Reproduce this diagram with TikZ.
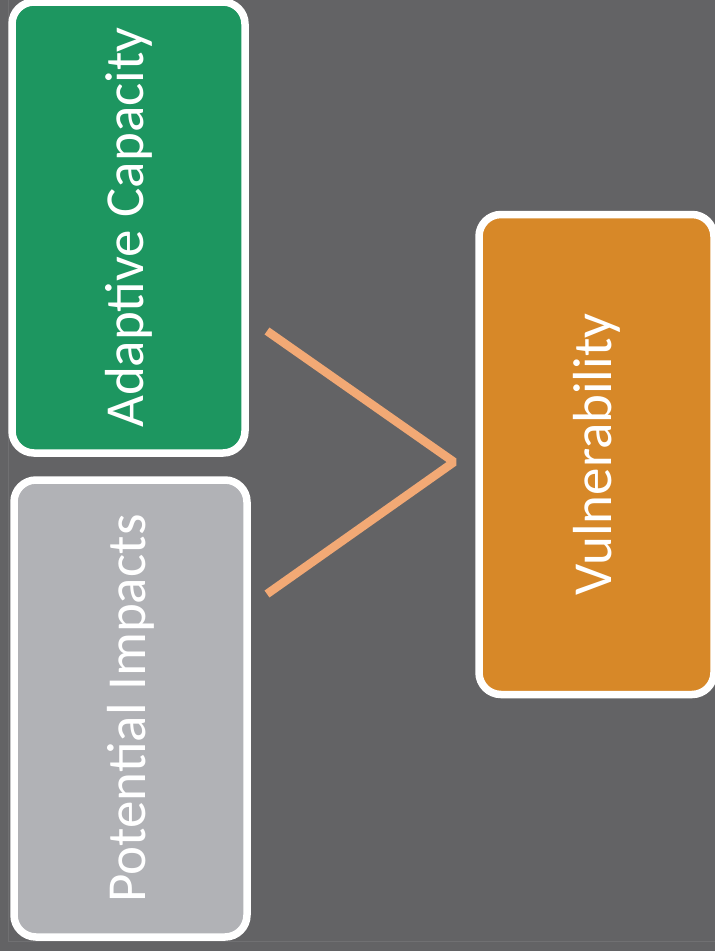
\documentclass[tikz,border=0pt]{standalone}
\usepackage{fontspec}
\setmainfont{Carlito}
\usepackage{tikz}
\usetikzlibrary{positioning}
\definecolor{slidegray}{RGB}{99,99,101}
\definecolor{adaptgreen}{RGB}{29,150,96}
\definecolor{impactgray}{RGB}{177,178,182}
\definecolor{vulnorange}{RGB}{215,136,40}
\definecolor{chevron}{RGB}{242,169,117}
\definecolor{frameline}{RGB}{112,112,114}

\begin{document}
\begin{tikzpicture}[x=1pt,y=-1pt,
  box/.style={draw=white,line width=7.5pt,rounded corners=22pt,rotate=90,
    text=white,font=\fontsize{55}{66}\selectfont,inner sep=0pt},
  link/.style={draw=chevron,line width=8.5pt,line join=bevel}]
  \useasboundingbox (0,0) rectangle (715,951);
  \fill[slidegray] (0,0) rectangle (715,951);
  % slide edge
  \draw[frameline,line width=0.8pt] (8,-5) -- (8,941) -- (720,941);
  % the three boxes
  \node[box,fill=adaptgreen,minimum width=451pt,minimum height=233pt] (adapt) at (128.5,227.5) {Adaptive Capacity};
  \node[box,fill=impactgray,minimum width=457pt,minimum height=233pt] (impact) at (130.5,708.5) {Potential Impacts};
  \node[box,fill=vulnorange,minimum width=480pt,minimum height=235pt] (vuln) at (596.5,454.5) {Vulnerability};
  % the chevron between them
  \coordinate (upper) at (267,331);
  \coordinate (tip) at (454,462);
  \coordinate (lower) at (267,594);
  \draw[link] (upper) -- (tip) -- (lower);
\end{tikzpicture}
\end{document}
